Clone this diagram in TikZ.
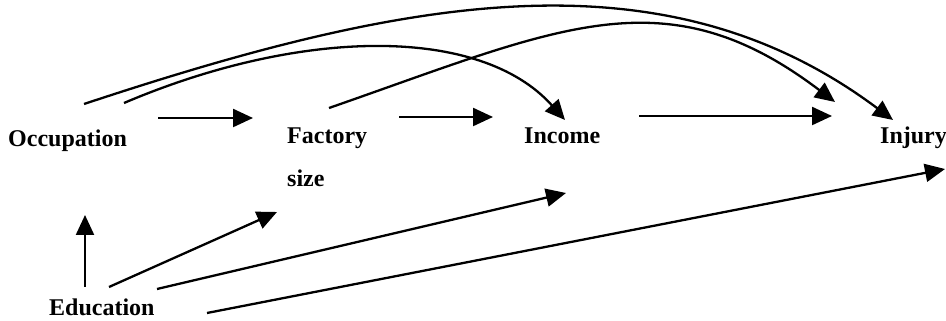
\documentclass[tikz,border=0pt]{standalone}
\usepackage{fontspec}
\setmainfont{Liberation Serif}
\usepackage{tikz}
\usetikzlibrary{arrows.meta}

\begin{document}
\begin{tikzpicture}[x=1pt,y=1pt,
    lbl/.style={font=\bfseries\fontsize{24}{43}\selectfont,inner sep=0pt,
      anchor=base west,align=left},
    arr/.style={-{Triangle[length=20pt,width=18pt]},line width=2.3pt}]
  \useasboundingbox (0,0) rectangle (946,321);
  % the five variables
  \node[lbl] (occ) at (8,174) {Occupation};
  \node[lbl] (fac) at (287,134) {Factory\\size};
  \node[lbl] (inc) at (524,177) {Income};
  \node[lbl] (inj) at (880,177) {Injury};
  \node[lbl] (edu) at (49,5) {Education};
  % straight paths along the chain
  \draw[arr] ([xshift=31pt,yshift=29pt]occ.base east) -- ([xshift=-34pt,yshift=69pt]fac.base west);
  \draw[arr] ([xshift=112pt,yshift=70pt]fac.base west) -- ([xshift=-31pt,yshift=27pt]inc.base west);
  \draw[arr] ([xshift=39pt,yshift=28pt]inc.base east) -- ([xshift=-48pt,yshift=28pt]inj.base west);
  % from education
  \draw[arr] ([xshift=36pt,yshift=29pt]edu.base west) -- ([xshift=77pt,yshift=-68pt]occ.base west);
  \draw[arr] ([xshift=60pt,yshift=29pt]edu.base west) -- ([xshift=-10pt,yshift=-25pt]fac.base west);
  \draw[arr] ([xshift=108pt,yshift=27pt]edu.base west) -- ([xshift=42pt,yshift=-49pt]inc.base west);
  \draw[arr] ([xshift=158pt,yshift=3pt]edu.base west) -- ([xshift=65pt,yshift=-25pt]inj.base west);
  % long arcs over the top
  \draw[arr] ([xshift=116pt,yshift=44pt]occ.base west)
    .. controls +(176,75) and +(-85,95) .. ([xshift=41pt,yshift=24pt]inc.base west);
  \draw[arr] ([xshift=42pt,yshift=79pt]fac.base west)
    .. controls +(230,80) and +(-170,129) .. ([xshift=-45pt,yshift=42pt]inj.base west);
  \draw[arr] ([xshift=76pt,yshift=43pt]occ.base west)
    .. controls +(320,106) and +(-230,172) .. ([xshift=13pt,yshift=24pt]inj.base west);
\end{tikzpicture}
\end{document}
